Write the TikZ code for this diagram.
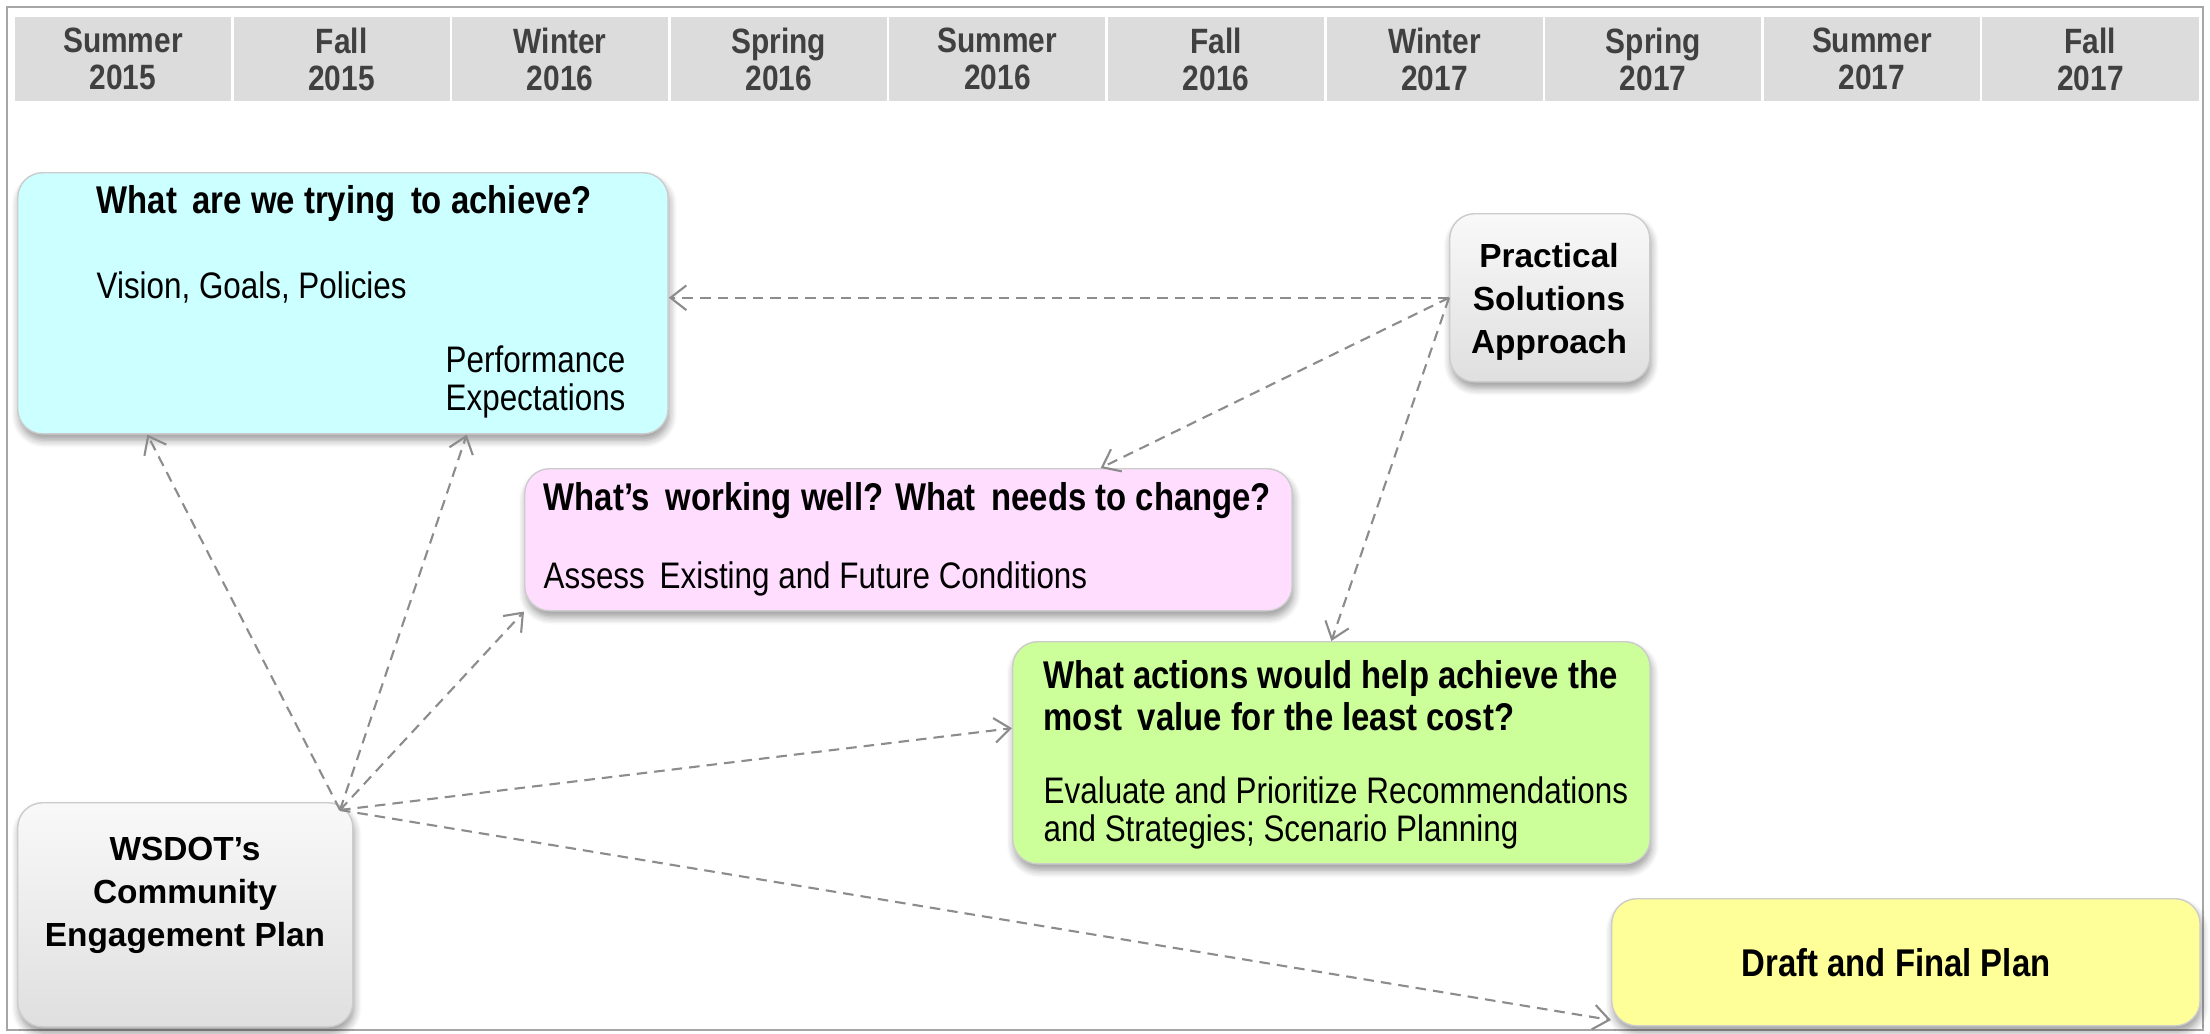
\documentclass[tikz,border=0pt]{standalone}
\usepackage{fontspec}
\setmainfont{Liberation Sans}
\newfontfamily\narrowsf[FakeStretch=0.85]{Liberation Sans}
\usetikzlibrary{arrows.meta, calc, shadows.blur}

\definecolor{hdrgray}{HTML}{DCDCDC}
\definecolor{aimcyan}{HTML}{CCFFFF}
\definecolor{condpink}{HTML}{FFDDFF}
\definecolor{actgreen}{HTML}{CCFF99}
\definecolor{planyellow}{HTML}{FFFF99}
\definecolor{flowgray}{HTML}{8C8C8C}

\tikzset{
  stage/.style={draw=gray!40, line width=0.4pt, rounded corners=0.25cm, anchor=north west, inner sep=0pt,
    blur shadow={shadow blur steps=6, shadow xshift=0.4pt, shadow yshift=-1.8pt, shadow opacity=40}},
  graybox/.style={top color=gray!5, bottom color=gray!25},
  season/.style={fill=hdrgray, minimum width=2.16cm, minimum height=0.84cm, inner sep=0pt, align=center,
    font=\narrowsf\bfseries\fontsize{10}{10.5}\selectfont, text=black!75},
  qtitle/.style={anchor=west, align=left, inner sep=0pt, font=\narrowsf\bfseries\fontsize{11}{12}\selectfont},
  qbody/.style={anchor=west, align=left, inner sep=0pt, font=\narrowsf\fontsize{10.5}{11}\selectfont},
  boldlbl/.style={align=center, inner sep=0pt, font=\bfseries\fontsize{9.5}{12.2}\selectfont},
  flow/.style={draw=flowgray, line width=0.6pt, dash pattern=on 3pt off 2pt,
    -{Straight Barb[length=4.5pt, width=7pt]}}
}

\begin{document}
\begin{tikzpicture}[x=0.01cm, y=-0.01cm]
  \useasboundingbox (0,0) rectangle (2210,1033);
  \draw[gray!70, line width=0.5pt] (7,7) rectangle (2203,1030);

  % timeline
  \foreach \season/\yr [count=\i from 0] in {Summer/2015, Fall/2015, Winter/2016, Spring/2016, Summer/2016,
      Fall/2016, Winter/2017, Spring/2017, Summer/2017, Fall/2017}
    \node[season] (hdr\i) at (123+218.6*\i, 59) {\season\\\yr};

  % stages
  \node[stage, fill=aimcyan, minimum width=6.5cm, minimum height=2.61cm] (goals) at (17,172) {};
  \node[qtitle] (goalsq) at (96,204) {What\, are we trying\, to achieve?};
  \node[qbody] (goalsv) at (96,287) {Vision, Goals, Policies};
  \node[qbody] (goalsp) at (445,382) {Performance\\Expectations};

  \node[stage, graybox, minimum width=2cm, minimum height=1.68cm] (psa) at (1449,213) {};
  \node[boldlbl] (psat) at (1549,302) {Practical\\Solutions\\Approach};

  \node[stage, fill=condpink, minimum width=7.67cm, minimum height=1.42cm] (cond) at (524,468) {};
  \node[qtitle] (condq) at (543,501) {What’s\, working well? What\, needs to change?};
  \node[qbody] (condb) at (543,579) {Assess\, Existing and Future Conditions};

  \node[stage, fill=actgreen, minimum width=6.37cm, minimum height=2.22cm] (act) at (1012,641) {};
  \node[qtitle] (actq) at (1043,696) {What actions would help achieve the\\most\, value for the least cost?};
  \node[qbody] (actb) at (1043,813) {Evaluate and Prioritize Recommendations\\and Strategies; Scenario Planning};

  \node[stage, graybox, minimum width=3.35cm, minimum height=2.24cm] (cep) at (17,802) {};
  \node[boldlbl] (cept) at (185,895) {WSDOT’s\\Community\\Engagement Plan};

  \node[stage, fill=planyellow, minimum width=5.88cm, minimum height=1.27cm] (plan) at (1611,898) {};
  \node[qtitle, anchor=center] (plant) at (1896,963) {Draft and Final Plan};

  % connectors
  \coordinate (cepout) at (340,810);
  \draw[flow] (psa.west) -- (goals.east |- psa.west);
  \draw[flow] (psa.west) -- ($(cond.north west)!0.75!(cond.north east)$);
  \draw[flow] (psa.west) -- (act.north);
  \draw[flow] (cepout) -- ($(goals.south west)!0.2!(goals.south east)$);
  \draw[flow] (cepout) -- ($(goals.south west)!0.69!(goals.south east)$);
  \draw[flow] (cepout) -- (cond.south west);
  \draw[flow] (cepout) -- ($(act.north west)!0.39!(act.south west)$);
  \draw[flow] (cepout) -- ($(plan.north west)!0.95!(plan.south west)$);
\end{tikzpicture}
\end{document}
